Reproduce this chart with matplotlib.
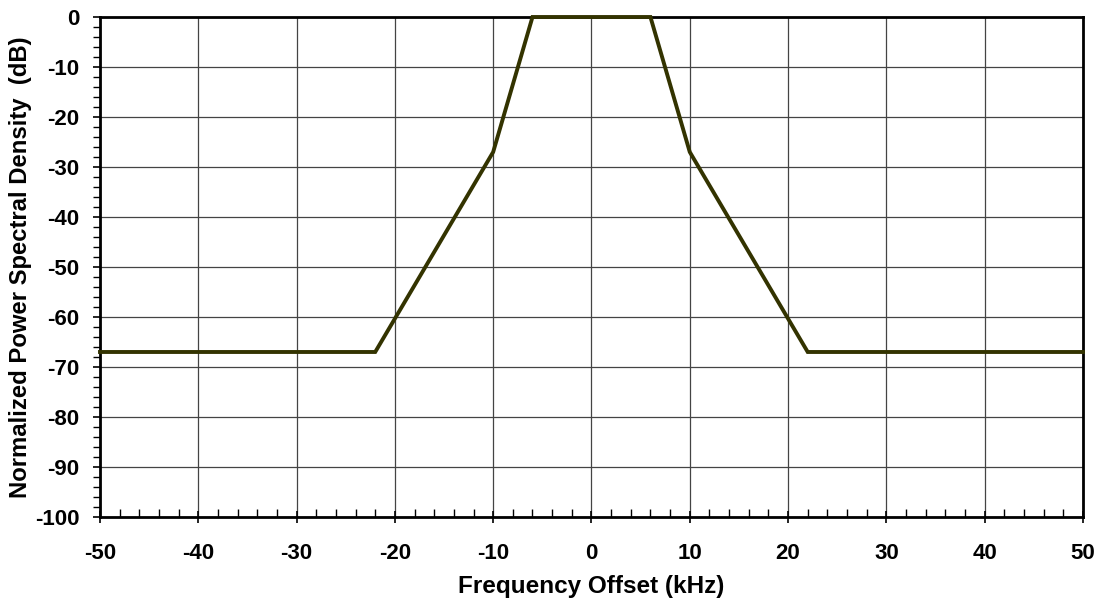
import matplotlib
matplotlib.use('Agg')
import matplotlib.pyplot as plt
from matplotlib.ticker import MultipleLocator

plt.rcParams['font.family'] = ['Liberation Sans', 'DejaVu Sans']
plt.rcParams['font.weight'] = 'bold'
plt.rcParams['axes.unicode_minus'] = False

# máscara espectral: frequência (kHz) x densidade espectral normalizada (dB)
freq_khz = [-50, -22, -10, -6, 6, 10, 22, 50]
psd_db = [-67, -67, -27, 0, 0, -27, -67, -67]

x_ticks = [-50, -40, -30, -20, -10, 0, 10, 20, 30, 40, 50]
y_ticks = [0, -10, -20, -30, -40, -50, -60, -70, -80, -90, -100]

fig = plt.figure(figsize=(11, 6.01), dpi=100)
ax = fig.add_axes([0.0909, 0.1398, 0.8936, 0.8319])

ax.plot(freq_khz, psd_db, color='#333300', linewidth=2.8, solid_joinstyle='miter', clip_on=False, zorder=3)

ax.set_xlim(-50, 50)
ax.set_ylim(-100, 0)
ax.set_xticks(x_ticks)
ax.set_yticks(y_ticks)
ax.xaxis.set_minor_locator(MultipleLocator(2))
ax.yaxis.set_minor_locator(MultipleLocator(2))

ax.grid(True, which='major', color='#444444', linewidth=0.9)
for s in ax.spines.values():
    s.set_linewidth(2)
    s.set_color('black')

ax.tick_params(axis='x', which='major', direction='inout', length=9, width=1.2, labelsize=16, pad=14)
ax.tick_params(axis='x', which='minor', direction='in', length=6, width=1)
ax.tick_params(axis='y', which='major', direction='out', length=5, width=1.2, labelsize=16, pad=10)
ax.tick_params(axis='y', which='minor', direction='out', length=5, width=1)

ax.set_xlabel('Frequency Offset (kHz)', fontsize=17.5, fontweight='bold', labelpad=8)
ax.set_ylabel('Normalized Power Spectral Density  (dB)', fontsize=17.2, fontweight='bold', labelpad=2)

fig.savefig('out.png', dpi=100)
